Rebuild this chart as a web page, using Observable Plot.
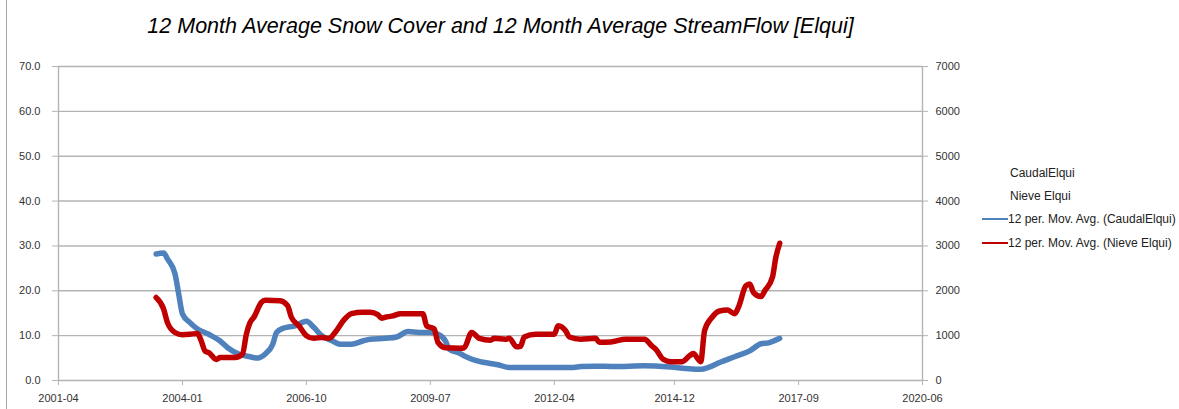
<!DOCTYPE html>
<html>
<head>
<meta charset="utf-8">
<script src="https://cdn.jsdelivr.net/npm/d3@7"></script>
<script src="https://cdn.jsdelivr.net/npm/@observablehq/plot@0.6"></script>
<style>
  body { margin: 0; background: #fff; }
  #wrap { position: relative; width: 1179px; height: 409px; overflow: hidden; background: #fff;
          font-family: "Liberation Sans", Arial, sans-serif; }
  #border { position: absolute; left: 6px; top: 0; width: 1px; height: 409px; background: #a6a6a6; }
  #title { position: absolute; left: 0; width: 1001px; top: 14px; text-align: center;
           font: italic 21.5px "Liberation Sans", Arial, sans-serif; color: #000; line-height: 24px; white-space: nowrap; }
  #chart { position: absolute; left: 0; top: 0; }
  .leg { position: absolute; font-size: 12px; line-height: 14px; color: #222; white-space: nowrap; }
  .sw { position: absolute; height: 2px; width: 26px; }
</style>
</head>
<body>
<div id="wrap">
  <div id="border"></div>
  <div id="chart"></div>
  <div id="title">12 Month Average Snow Cover and 12 Month Average StreamFlow [Elqui]</div>
  <div id="legend"></div>
</div>
<script>
// ---- Data ----
const xTickLabels = ["2001-04", "2004-01", "2006-10", "2009-07", "2012-04", "2014-12", "2017-09", "2020-06"];
const leftTicks = [0, 10, 20, 30, 40, 50, 60, 70];
const rightTicks = [0, 1000, 2000, 3000, 4000, 5000, 6000, 7000];

const legendLabels = ["CaudalElqui", "Nieve Elqui", "12 per. Mov. Avg. (CaudalElqui)", "12 per. Mov. Avg. (Nieve Elqui)"];

// 12 per. Mov. Avg. (CaudalElqui) — left axis
const caudalDates = ["2003-06","2003-08","2003-09","2003-11","2003-12","2004-01","2004-03","2004-05","2004-08","2004-11",
  "2005-01","2005-04","2005-07","2005-09","2005-11","2006-01","2006-02","2006-04","2006-07","2006-10",
  "2006-12","2007-02","2007-05","2007-07","2007-10","2008-01","2008-03","2008-07","2008-10","2009-01",
  "2009-04","2009-07","2009-09","2009-11","2009-12","2010-03","2010-04","2010-07","2010-11","2011-01",
  "2011-04","2012-09","2012-11","2013-03","2013-08","2014-04","2014-11","2015-03","2015-07","2015-09",
  "2015-12","2016-04","2016-08","2016-11","2017-01","2017-04"];
const caudalValues = [28.2,28.4,27.1,23.8,19.3,14.8,12.9,11.5,10.3,8.8,
  7.3,5.9,5.3,5.0,5.9,8.1,10.7,11.7,12.2,13.2,
  11.8,10.0,8.8,8.1,8.1,8.8,9.2,9.4,9.7,10.9,
  10.7,10.7,10.3,8.8,7.0,6.0,5.5,4.5,3.8,3.5,
  2.9,2.9,3.1,3.2,3.1,3.3,3.0,2.7,2.5,2.9,
  4.0,5.3,6.6,8.2,8.4,9.4];

// 12 per. Mov. Avg. (Nieve Elqui) — right axis
const nieveDates = ["2003-06","2003-08","2003-09","2003-11","2004-01","2004-03","2004-05","2004-06","2004-07","2004-08",
  "2004-10","2004-11","2005-03","2005-05","2005-06","2005-07","2005-08","2005-10","2005-11","2006-03",
  "2006-05","2006-06","2006-08","2006-10","2006-12","2007-02","2007-04","2007-06","2007-08","2007-10",
  "2008-01","2008-03","2008-05","2008-06","2008-07","2008-09","2008-11","2009-05","2009-06","2009-08",
  "2009-09","2009-11","2010-03","2010-04","2010-06","2010-08","2010-11","2010-12","2011-03","2011-04",
  "2011-06","2011-07","2011-08","2011-11","2012-04","2012-05","2012-07","2012-08","2012-11","2013-03",
  "2013-04","2013-07","2013-11","2014-04","2014-06","2014-07","2014-09","2014-11","2015-02","2015-04",
  "2015-05","2015-07","2015-08","2015-10","2015-12","2016-02","2016-04","2016-05","2016-07","2016-08",
  "2016-09","2016-11","2016-12","2017-02","2017-03","2017-04"];
const nieveValues = [1850,1590,1290,1070,1020,1030,1050,880,660,620,
  470,510,510,590,1030,1290,1410,1740,1790,1780,
  1670,1410,1220,1000,940,960,940,1110,1350,1490,
  1520,1520,1470,1390,1410,1440,1490,1490,1220,1150,
  850,730,720,730,1070,940,900,940,920,940,
  750,760,970,1030,1030,1220,1110,970,920,940,
  850,860,920,920,770,700,470,420,420,550,
  600,420,1110,1410,1550,1570,1490,1630,2110,2150,
  1960,1870,2000,2300,2750,3060];

// ---- Build ----
const parseMonth = d3.utcParse("%Y-%m");
const xTicks = xTickLabels.map(parseMonth);
const caudal = caudalDates.map((d, i) => ({date: parseMonth(d), value: caudalValues[i]}));
const nieve = nieveDates.map((d, i) => ({date: parseMonth(d), value: nieveValues[i]}));
const rightScale = 100; // right axis value per left axis unit

const blue = "#4f81bd", red = "#c00000";
const gridColor = "#b4b4b4";

const chart = Plot.plot({
  width: 1179,
  height: 409,
  marginLeft: 58,
  marginRight: 257,
  marginTop: 66,
  marginBottom: 29,
  style: {fontFamily: "'Liberation Sans', Arial, sans-serif", fontSize: "11px", color: "#333", background: "transparent", overflow: "visible"},
  x: {type: "utc", domain: [xTicks[0], xTicks[xTicks.length - 1]]},
  y: {domain: [0, 70]},
  marks: [
    Plot.gridY(leftTicks, {stroke: gridColor, strokeOpacity: 1, strokeWidth: 1.4}),
    Plot.ruleX([xTicks[0]], {stroke: gridColor, strokeWidth: 1.4}),
    Plot.ruleX([xTicks[xTicks.length - 1]], {stroke: gridColor, strokeWidth: 1.4}),
    Plot.axisY(leftTicks, {anchor: "left", tickSize: 6, tickPadding: 12, stroke: gridColor, strokeOpacity: 1,
      tickFormat: d => d.toFixed(1), label: null, fill: "#333"}),
    Plot.axisY(rightTicks.map(v => v / rightScale), {anchor: "right", tickSize: 5, tickPadding: 8, stroke: gridColor, strokeOpacity: 1,
      tickFormat: d => String(Math.round(d * rightScale)), label: null, fill: "#333"}),
    Plot.axisX(xTicks, {anchor: "bottom", tickSize: 5, tickPadding: 9, stroke: gridColor, strokeOpacity: 1,
      tickFormat: d3.utcFormat("%Y-%m"), label: null, fill: "#333"}),
    Plot.line(caudal, {x: "date", y: "value", stroke: blue, strokeWidth: 5.5, curve: "monotone-x",
      strokeLinejoin: "round", strokeLinecap: "round"}),
    Plot.line(nieve, {x: "date", y: d => d.value / rightScale, stroke: red, strokeWidth: 5.5, curve: "monotone-x",
      strokeLinejoin: "round", strokeLinecap: "round"})
  ]
});
document.getElementById("chart").appendChild(chart);

// ---- Legend ----
const legend = document.getElementById("legend");
const legendColors = [null, null, blue, red];
const legendRowsY = [173, 196, 219, 243];
legendLabels.forEach((label, i) => {
  const t = document.createElement("div");
  t.className = "leg";
  t.textContent = label;
  t.style.left = (legendColors[i] ? 1008 : 1010) + "px";
  t.style.top = (legendRowsY[i] - 7) + "px";
  legend.appendChild(t);
  if (legendColors[i]) {
    const s = document.createElement("div");
    s.className = "sw";
    s.style.left = "982px";
    s.style.top = (legendRowsY[i] - 1) + "px";
    s.style.background = legendColors[i];
    legend.appendChild(s);
  }
});
</script>
</body>
</html>
